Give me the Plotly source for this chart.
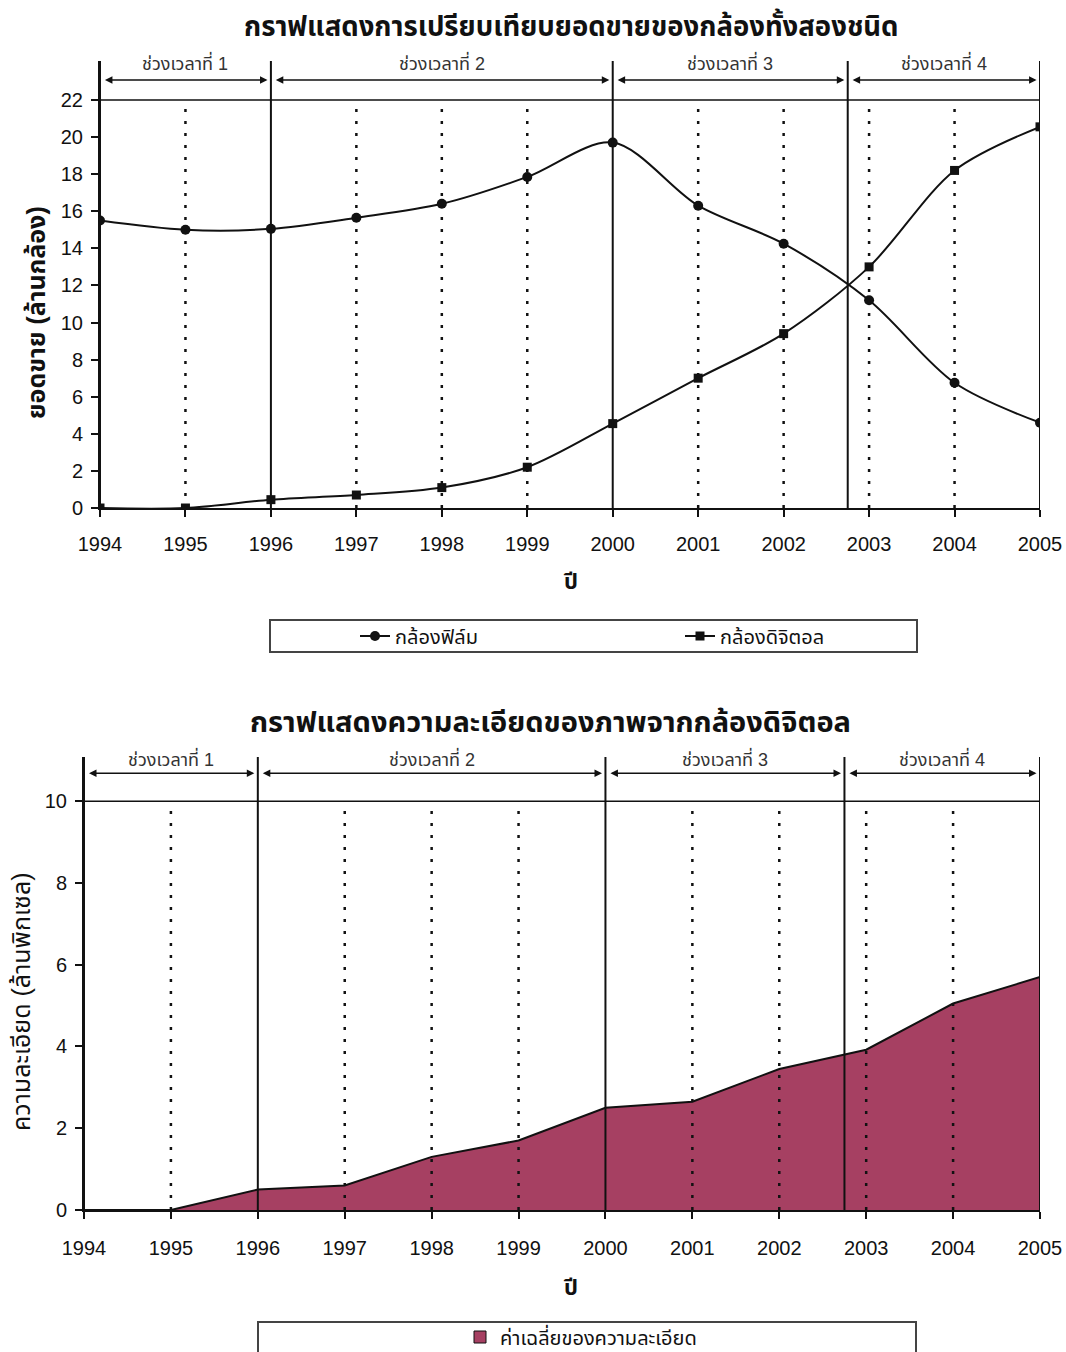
import plotly.graph_objects as go

# ---- data ----
years = [1994, 1995, 1996, 1997, 1998, 1999, 2000, 2001, 2002, 2003, 2004, 2005]
film_sales = [15.5, 15.0, 15.05, 15.65, 16.4, 17.85, 19.7, 16.3, 14.25, 11.2, 6.75, 4.6]
digital_sales = [0.0, 0.0, 0.45, 0.7, 1.1, 2.2, 4.55, 7.0, 9.4, 13.0, 18.2, 20.55]
resolution = [0.0, 0.0, 0.5, 0.6, 1.3, 1.7, 2.5, 2.65, 3.45, 3.92, 5.05, 5.7]

period_bounds = [1994, 1996, 2000, 2002.75, 2005]
period_labels = ["ช่วงเวลาที่ 1", "ช่วงเวลาที่ 2", "ช่วงเวลาที่ 3", "ช่วงเวลาที่ 4"]

title_top = "กราฟแสดงการเปรียบเทียบยอดขายของกล้องทั้งสองชนิด"
title_bottom = "กราฟแสดงความละเอียดของภาพจากกล้องดิจิตอล"
ytitle_top = "ยอดขาย (ล้านกล้อง)"
ytitle_bottom = "ความละเอียด (ล้านพิกเซล)"
xtitle = "ปี"
film_name = "กล้องฟิล์ม"
digital_name = "กล้องดิจิตอล"
res_name = "ค่าเฉลี่ยของความละเอียด"

W, H = 1066, 1352
FONT = "Liberation Sans, Arial, Noto Sans Thai, sans-serif"
INK = "#111111"
FILL = "#A64062"


def px(y):
    """page pixel row -> paper y"""
    return 1 - y / H


def pxx(x):
    """page pixel column -> paper x"""
    return x / W


fig = go.Figure()

# top chart: unit sales of both camera types
fig.add_trace(go.Scatter(
    x=years, y=film_sales, name=film_name, mode="lines+markers",
    line=dict(color=INK, width=2, shape="spline", smoothing=0.9),
    marker=dict(symbol="circle", size=10, color=INK),
    xaxis="x", yaxis="y", legend="legend",
))
fig.add_trace(go.Scatter(
    x=years, y=digital_sales, name=digital_name, mode="lines+markers",
    line=dict(color=INK, width=2, shape="spline", smoothing=0.9),
    marker=dict(symbol="square", size=9, color=INK),
    xaxis="x", yaxis="y", legend="legend",
))

# bottom chart: average resolution as a filled area
fig.add_trace(go.Scatter(
    x=years, y=resolution, name=res_name, mode="lines", fill="tozeroy",
    fillcolor=FILL, line=dict(color=INK, width=2),
    xaxis="x2", yaxis="y2", showlegend=False,
))
# legend swatch for the area
fig.add_trace(go.Scatter(
    x=[None], y=[None], name=res_name, mode="markers",
    marker=dict(symbol="square", size=12, color=FILL, line=dict(color=INK, width=1)),
    xaxis="x2", yaxis="y2", legend="legend2",
))

TOP_MAX, BOT_MAX = 24.1, 11.08
TOP_ARROW, BOT_ARROW = 23.07, 10.68
TOP_LABEL, BOT_LABEL = 24.0, 11.05

shapes = []
annotations = []

for xa, ya, grid_top, ymax, arrow_y, label_y in [
    ("x", "y", 22, TOP_MAX, TOP_ARROW, TOP_LABEL),
    ("x2", "y2", 10, BOT_MAX, BOT_ARROW, BOT_LABEL),
]:
    # top grid line
    shapes.append(dict(type="line", xref=xa, yref=ya, x0=years[0], x1=years[-1],
                       y0=grid_top, y1=grid_top, line=dict(color=INK, width=1.5)))
    # dotted year lines
    for yr in years:
        if yr in period_bounds:
            continue
        shapes.append(dict(type="line", xref=xa, yref=ya, x0=yr, x1=yr, y0=0, y1=grid_top,
                           line=dict(color=INK, width=2.5, dash="3px,9px")))
    # solid period boundaries
    for b in period_bounds:
        shapes.append(dict(type="line", xref=xa, yref=ya, x0=b, x1=b, y0=0, y1=ymax,
                           line=dict(color=INK, width=2)))
    # period arrows and labels
    for i, lab in enumerate(period_labels):
        a, b = period_bounds[i], period_bounds[i + 1]
        annotations.append(dict(xref=xa, yref=ya, axref=xa, ayref=ya,
                                x=b - 0.04, y=arrow_y, ax=a + 0.04, ay=arrow_y,
                                text="", showarrow=True, arrowhead=2, arrowside="end+start",
                                arrowsize=1, arrowwidth=1.5, arrowcolor=INK))
        annotations.append(dict(xref=xa, yref=ya, x=(a + b) / 2, y=label_y,
                                text=lab, showarrow=False, xanchor="center", yanchor="middle",
                                font=dict(family=FONT, size=18, color="#333333")))


def note(x, y, text, size, angle=0):
    return dict(xref="paper", yref="paper", x=pxx(x), y=px(y), text=text,
                xanchor="center", yanchor="middle", textangle=angle,
                showarrow=False, font=dict(family=FONT, size=size, color=INK))


# titles and axis titles
annotations += [
    note(571, 25, f"<b>{title_top}</b>", 27.5),
    note(550, 722, f"<b>{title_bottom}</b>", 29),
    note(570, 581, f"<b>{xtitle}</b>", 22),
    note(570, 1287, f"<b>{xtitle}</b>", 22),
    note(36, 313, f"<b>{ytitle_top}</b>", 25, -90),
    note(21, 1002, ytitle_bottom, 25, -90),
]

# legend frames
shapes += [
    dict(type="rect", xref="paper", yref="paper", x0=pxx(270), x1=pxx(917),
         y0=px(652), y1=px(620), line=dict(color="#444444", width=2)),
    dict(type="rect", xref="paper", yref="paper", x0=pxx(258), x1=pxx(916),
         y0=px(1365), y1=px(1322), line=dict(color="#444444", width=2)),
]

axis_common = dict(
    showline=True, linecolor=INK, linewidth=2, showgrid=False, zeroline=False,
    ticks="outside", ticklen=7, tickwidth=1.5, tickcolor=INK,
    tickfont=dict(family=FONT, size=20, color=INK),
)

fig.update_layout(
    width=W, height=H,
    margin=dict(l=0, r=0, t=0, b=0, autoexpand=False),
    paper_bgcolor="white", plot_bgcolor="white",
    showlegend=True,
    xaxis=dict(domain=[pxx(100), pxx(1040)], range=[1994, 2005], anchor="y",
               tickvals=years, ticklabelstandoff=10, **axis_common),
    yaxis=dict(domain=[px(508), px(61)], range=[0, TOP_MAX], anchor="x",
               tickvals=list(range(0, 23, 2)), ticklabelstandoff=4, **axis_common),
    xaxis2=dict(domain=[pxx(84), pxx(1040)], range=[1994, 2005], anchor="y2",
                tickvals=years, ticklabelstandoff=12, **axis_common),
    yaxis2=dict(domain=[px(1210), px(757)], range=[0, BOT_MAX], anchor="x2",
                tickvals=list(range(0, 11, 2)), ticklabelstandoff=4, **axis_common),
    legend=dict(orientation="h", x=pxx(355), xanchor="left", y=px(636), yanchor="middle",
                entrywidth=280, entrywidthmode="pixels", bgcolor="rgba(0,0,0,0)",
                font=dict(family=FONT, size=20, color=INK)),
    legend2=dict(orientation="h", x=pxx(460), xanchor="left", y=px(1337), yanchor="middle",
                 bgcolor="rgba(0,0,0,0)", font=dict(family=FONT, size=20, color=INK)),
    shapes=shapes,
    annotations=annotations,
)

fig.write_html("out.html")
